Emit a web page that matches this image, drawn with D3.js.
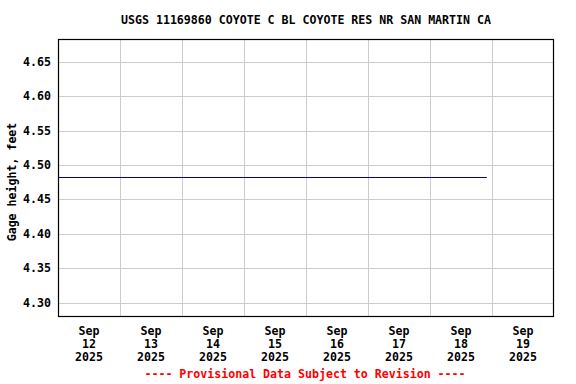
<!DOCTYPE html>
<html>
<head>
<meta charset="utf-8">
<script src="https://cdn.jsdelivr.net/npm/d3@7"></script>
<style>
  body { margin: 0; background: #fff; }
  text { font-family: "DejaVu Sans Mono", monospace; font-weight: bold; font-size: 11.6px; }
</style>
</head>
<body>
<svg id="chart" width="576" height="384"></svg>
<script>
const title = 'USGS 11169860 COYOTE C BL COYOTE RES NR SAN MARTIN CA';
const yLabel = 'Gage height, feet';
const footer = '---- Provisional Data Subject to Revision ----';

// gage readings (flat over the week)
const times = ['2025-09-12T00:00', '2025-09-13T00:00', '2025-09-14T00:00', '2025-09-15T00:00',
  '2025-09-16T00:00', '2025-09-17T00:00', '2025-09-18T00:00', '2025-09-18T22:00'];
const heights = [4.482, 4.482, 4.482, 4.482, 4.482, 4.482, 4.482, 4.482];

const yTicks = [4.30, 4.35, 4.40, 4.45, 4.50, 4.55, 4.60, 4.65];
const dayTicks = ['2025-09-12', '2025-09-13', '2025-09-14', '2025-09-15',
  '2025-09-16', '2025-09-17', '2025-09-18', '2025-09-19'];

const margin = { top: 39, right: 22, bottom: 68, left: 58 };
const W = 576, H = 384;
const iw = W - margin.left - margin.right;
const ih = H - margin.top - margin.bottom;

const parse = d3.timeParse('%Y-%m-%dT%H:%M');
const parseDay = d3.timeParse('%Y-%m-%d');

const x = d3.scaleTime()
  .domain([parseDay('2025-09-12'), parseDay('2025-09-20')])
  .range([0, iw]);
const y = d3.scaleLinear()
  .domain([4.2807, 4.683])
  .range([ih, 0]);

const svg = d3.select('#chart');
const g = svg.append('g').attr('transform', `translate(${margin.left},${margin.top})`);

// grid
g.append('g')
  .selectAll('line')
  .data(yTicks)
  .join('line')
  .attr('x1', 0).attr('x2', iw)
  .attr('y1', d => Math.round(y(d)) + 0.5)
  .attr('y2', d => Math.round(y(d)) + 0.5)
  .attr('stroke', '#ccc');

g.append('g')
  .selectAll('line')
  .data(dayTicks.slice(1))
  .join('line')
  .attr('x1', d => Math.round(x(parseDay(d))) + 0.5)
  .attr('x2', d => Math.round(x(parseDay(d))) + 0.5)
  .attr('y1', 0).attr('y2', ih)
  .attr('stroke', '#ccc');

// data line
const data = times.map((t, i) => ({ t: parse(t), v: heights[i] }));
g.append('path')
  .datum(data)
  .attr('fill', 'none')
  .attr('stroke', '#0000a8')
  .attr('stroke-width', 1)
  .attr('d', d3.line().x(d => x(d.t)).y(d => Math.round(y(d.v)) + 0.5));

// frame
g.append('rect')
  .attr('x', 0.5).attr('y', 0.5)
  .attr('width', iw - 1).attr('height', ih)
  .attr('fill', 'none')
  .attr('stroke', '#000')
  .attr('stroke-width', 1.2);

// y tick labels
g.append('g')
  .selectAll('text')
  .data(yTicks)
  .join('text')
  .attr('x', -7)
  .attr('y', d => y(d))
  .attr('dy', '0.35em')
  .attr('text-anchor', 'end')
  .text(d => d3.format('.2f')(d));

// x tick labels, centred on each day
const fmtMon = d3.timeFormat('%b');
const fmtDay = d3.timeFormat('%d');
const fmtYr = d3.timeFormat('%Y');
const xl = g.append('g')
  .selectAll('text')
  .data(dayTicks)
  .join('text')
  .attr('text-anchor', 'middle')
  .attr('transform', d => {
    const d0 = parseDay(d);
    return `translate(${x(d3.timeHour.offset(d0, 12))},${ih + 19})`;
  });
xl.append('tspan').attr('x', 0).attr('y', 0).text(d => fmtMon(parseDay(d)));
xl.append('tspan').attr('x', 0).attr('y', 13).text(d => fmtDay(parseDay(d)));
xl.append('tspan').attr('x', 0).attr('y', 25.5).text(d => fmtYr(parseDay(d)));

// title
svg.append('text')
  .attr('x', 306).attr('y', 24)
  .attr('text-anchor', 'middle')
  .text(title);

// y axis label
svg.append('text')
  .attr('transform', `translate(16,182) rotate(-90)`)
  .attr('text-anchor', 'middle')
  .text(yLabel);

// footer
svg.append('text')
  .attr('x', 305).attr('y', 378)
  .attr('text-anchor', 'middle')
  .attr('fill', '#f00')
  .text(footer);
</script>
</body>
</html>
